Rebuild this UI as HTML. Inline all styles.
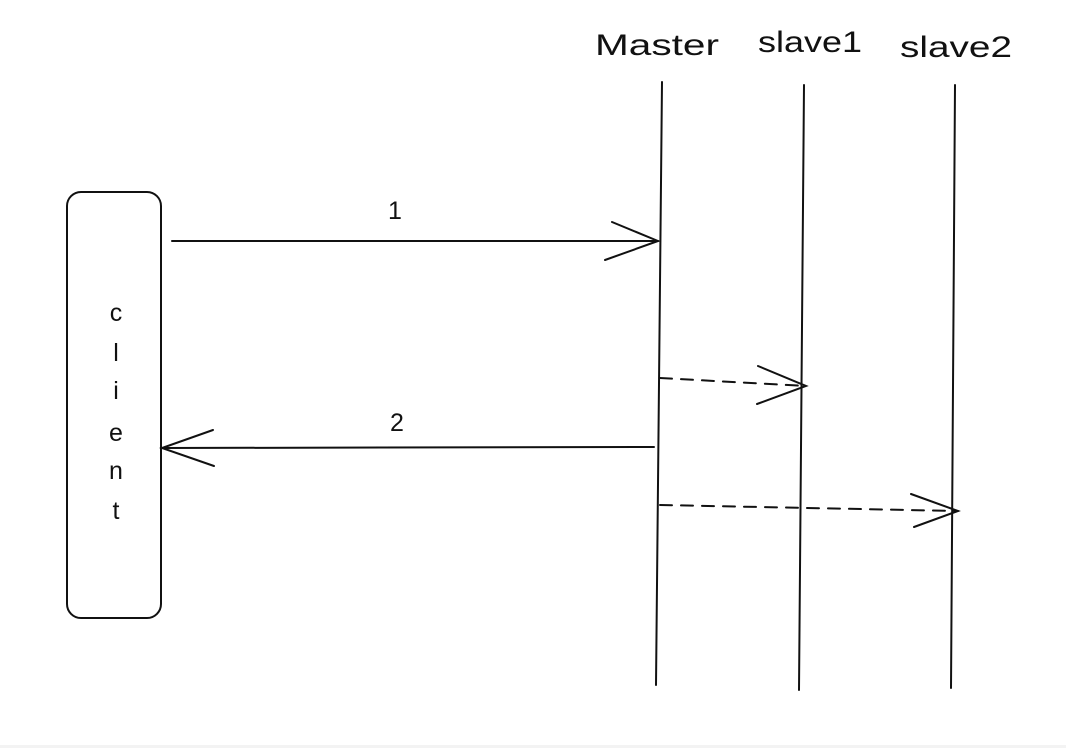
<!DOCTYPE html>
<html><head><meta charset="utf-8"><style>
html,body{margin:0;padding:0;background:#fff;}
svg{display:block}
</style></head><body>
<svg width="1066" height="748" viewBox="0 0 1066 748" xmlns="http://www.w3.org/2000/svg">
<rect x="0" y="0" width="1066" height="748" fill="#fff"/>
<rect x="0" y="745" width="1066" height="3" fill="#f3f3f3"/>
<g font-family="Liberation Sans, sans-serif" font-size="30" fill="#111">
<text x="595" y="55" textLength="124" lengthAdjust="spacingAndGlyphs">Master</text>
<text x="758" y="52" textLength="104" lengthAdjust="spacingAndGlyphs">slave1</text>
<text x="900" y="57" textLength="112" lengthAdjust="spacingAndGlyphs">slave2</text>
</g>
<g stroke="#111" stroke-width="2" fill="none" stroke-linecap="round">
<rect x="67" y="192" width="94" height="426" rx="14"/>
<line x1="662" y1="82" x2="656" y2="685"/>
<line x1="804" y1="85" x2="799" y2="690"/>
<line x1="955" y1="85" x2="951" y2="688"/>
<line x1="172" y1="241" x2="658" y2="241"/>
<path d="M612 222 L658 241 L605 260"/>
<line x1="654" y1="447" x2="162" y2="448"/>
<path d="M213 430 L162 448 L214 466"/>
<line x1="660" y1="378" x2="806" y2="386" stroke-dasharray="12 9"/>
<path d="M758 366 L806 386 L757 404"/>
<line x1="660" y1="505" x2="958" y2="511" stroke-dasharray="12 9"/>
<path d="M911 494 L958 511 L914 527"/>
</g>
<g font-family="Liberation Sans, sans-serif" font-size="25" fill="#111" text-anchor="middle">
<text x="395" y="219">1</text>
<text x="397" y="431">2</text>
<text x="116" y="321">c</text>
<text x="116" y="361">l</text>
<text x="116" y="399">i</text>
<text x="116" y="441">e</text>
<text x="116" y="479">n</text>
<text x="116" y="519">t</text>
</g>
</svg>
</body></html>
